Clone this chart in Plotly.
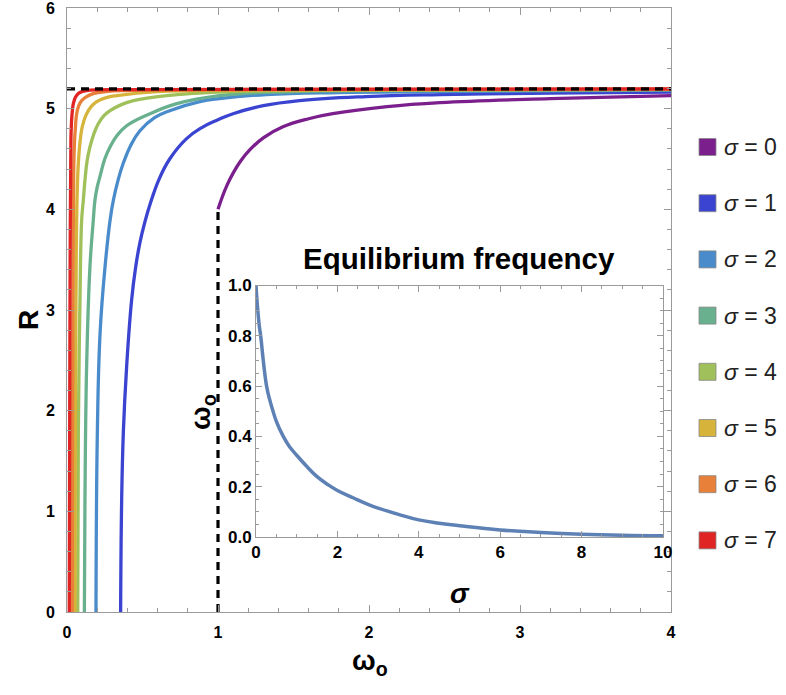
import plotly.graph_objects as go

# ---------------- data ----------------
sigma_values = [0, 1, 2, 3, 4, 5, 6, 7]
sigma_colors = ["#7b1f8c", "#3a44d0", "#4a8ccb", "#68b08e",
                "#9fc05a", "#d6b43c", "#e8803a", "#e02424"]

# R(omega_o) for each sigma
w_s0 = [1.00, 1.03, 1.06, 1.10, 1.15, 1.21, 1.30, 1.43, 1.60, 1.76, 2.12, 2.47, 3.20, 4.00]
R_s0 = [4.00, 4.13, 4.24, 4.36, 4.48, 4.59, 4.71, 4.82, 4.90, 4.95, 5.02, 5.06, 5.10, 5.13]

w_s1 = [0.355, 0.362, 0.373, 0.395, 0.428, 0.455, 0.483, 0.515, 0.55, 0.61, 0.68, 0.79, 0.89, 1.00, 1.10, 1.30, 1.54, 1.98, 2.47, 3.20, 4.00]
R_s1 = [0.00, 1.11, 1.78, 2.44, 3.10, 3.43, 3.67, 3.87, 4.05, 4.30, 4.50, 4.70, 4.81, 4.89, 4.95, 5.03, 5.08, 5.12, 5.14, 5.155, 5.165]

w_s2 = [0.192, 0.201, 0.219, 0.252, 0.285, 0.307, 0.34, 0.373, 0.42, 0.483, 0.58, 0.68, 0.88, 1.01, 1.32, 1.80, 2.47, 4.00]
R_s2 = [0.00, 1.78, 2.77, 3.43, 3.89, 4.09, 4.30, 4.46, 4.63, 4.78, 4.91, 4.98, 5.07, 5.10, 5.14, 5.16, 5.17, 5.185]

w_s3 = [0.115, 0.119, 0.130, 0.152, 0.174, 0.185, 0.20, 0.219, 0.25, 0.285, 0.33, 0.395, 0.55, 0.727, 1.01, 1.50, 2.50, 4.00]
R_s3 = [0.00, 1.11, 2.44, 3.43, 3.89, 4.09, 4.22, 4.33, 4.50, 4.62, 4.73, 4.83, 4.95, 5.05, 5.13, 5.17, 5.185, 5.19]

w_s4 = [0.071, 0.075, 0.086, 0.097, 0.108, 0.119, 0.133, 0.152, 0.178, 0.207, 0.245, 0.285, 0.36, 0.44, 0.66, 1.00, 2.00, 4.00]
R_s4 = [0.00, 1.78, 3.10, 3.89, 4.09, 4.29, 4.48, 4.62, 4.75, 4.85, 4.93, 4.98, 5.04, 5.08, 5.13, 5.165, 5.185, 5.19]

w_s5 = [0.053, 0.055, 0.058, 0.063, 0.068, 0.075, 0.085, 0.097, 0.112, 0.130, 0.16, 0.197, 0.26, 0.33, 0.60, 1.20, 4.00]
R_s5 = [0.00, 1.50, 2.80, 3.80, 4.20, 4.46, 4.65, 4.79, 4.88, 4.95, 5.02, 5.07, 5.11, 5.13, 5.17, 5.185, 5.192]

w_s6 = [0.035, 0.037, 0.042, 0.046, 0.050, 0.055, 0.064, 0.078, 0.097, 0.13, 0.174, 0.26, 0.40, 1.00, 4.00]
R_s6 = [0.00, 2.00, 3.90, 4.50, 4.68, 4.80, 4.95, 5.03, 5.08, 5.12, 5.15, 5.17, 5.18, 5.19, 5.195]

w_s7 = [0.015, 0.018, 0.022, 0.026, 0.029, 0.032, 0.037, 0.042, 0.055, 0.075, 0.10, 0.13, 0.40, 4.00]
R_s7 = [0.00, 2.00, 3.90, 4.70, 4.84, 4.92, 5.00, 5.05, 5.11, 5.15, 5.17, 5.18, 5.19, 5.196]

curves_w = [w_s0, w_s1, w_s2, w_s3, w_s4, w_s5, w_s6, w_s7]
curves_R = [R_s0, R_s1, R_s2, R_s3, R_s4, R_s5, R_s6, R_s7]

# reference lines
R_limit = 5.196
limit_w = [0.0, 4.0]
edge_w = [1.0, 1.0]
edge_R = [0.0, 4.0]

# inset: equilibrium frequency vs sigma
inset_sigma = [0.0, 0.02, 0.05, 0.08, 0.115, 0.18, 0.26, 0.33, 0.40, 0.50, 0.67, 0.82, 1.00, 1.25, 1.50, 1.75, 2.00, 2.40, 2.75, 3.00, 3.50, 4.00, 4.50, 5.00, 6.00, 7.00, 8.00, 9.00, 10.0]
inset_omega = [1.00, 0.95, 0.89, 0.84, 0.80, 0.70, 0.60, 0.55, 0.51, 0.46, 0.40, 0.36, 0.325, 0.28, 0.24, 0.21, 0.185, 0.155, 0.13, 0.115, 0.09, 0.068, 0.055, 0.045, 0.028, 0.018, 0.011, 0.007, 0.005]

# ---------------- layout geometry (pixels) ----------------
W, H = 786, 695
PL, PR, PT, PB = 67, 671, 8, 612   # main plot frame


def fx(px):
    return (px - PL) / (PR - PL)


def fy(py):
    return (PB - py) / (PB - PT)


FONT = "Liberation Sans, Arial, sans-serif"
FRAME = "#9a9a9a"
SMOOTH = 1.2

fig = go.Figure()

for s, col, w, r in zip(sigma_values, sigma_colors, curves_w, curves_R):
    fig.add_trace(go.Scatter(
        x=w, y=r, mode="lines", name=f"σ = {s}", showlegend=False,
        line=dict(color=col, width=3.3, shape="spline", smoothing=SMOOTH),
        xaxis="x", yaxis="y"))

dash_style = dict(color="black", width=3.2, dash="8px,6px")
fig.add_trace(go.Scatter(x=limit_w, y=[R_limit, R_limit], mode="lines",
                         line=dash_style, showlegend=False, xaxis="x", yaxis="y"))
fig.add_trace(go.Scatter(x=edge_w, y=edge_R, mode="lines",
                         line=dash_style, showlegend=False, xaxis="x", yaxis="y"))

fig.add_trace(go.Scatter(x=inset_sigma, y=inset_omega, mode="lines", showlegend=False,
                         line=dict(color="#5e81b5", width=3.5, shape="spline", smoothing=SMOOTH),
                         xaxis="x2", yaxis="y2"))

axis_common = dict(
    showline=True, linecolor=FRAME, linewidth=1, mirror="allticks",
    ticks="inside", tickcolor=FRAME, tickwidth=1,
    showgrid=False, zeroline=False, automargin=False,
    ticklabeloverflow="allow",
    tickfont=dict(family=FONT, size=16, color="black", weight="bold"),
)

fig.update_layout(
    template="none",
    width=W, height=H, autosize=False,
    margin=dict(l=PL, r=W - PR, t=PT, b=H - PB, pad=0),
    paper_bgcolor="white", plot_bgcolor="white",
    showlegend=False,
    xaxis=dict(axis_common, domain=[0, 1], range=[0, 4], tick0=0, dtick=1, ticklen=7,
               ticklabelstandoff=6,
               minor=dict(dtick=0.2, ticklen=4, ticks="inside", tickcolor=FRAME),
               anchor="y"),
    yaxis=dict(axis_common, domain=[0, 1], range=[0, 6], tick0=0, dtick=1, ticklen=7,
               ticklabelstandoff=8,
               minor=dict(dtick=0.2, ticklen=4, ticks="inside", tickcolor=FRAME),
               anchor="x"),
    xaxis2=dict(axis_common, domain=[fx(256), fx(663)], range=[0, 10], tick0=0, dtick=2,
                ticklen=6, minor=dict(dtick=0.5, ticklen=3, ticks="inside", tickcolor=FRAME),
                anchor="y2", tickfont=dict(family=FONT, size=17, color="black", weight="bold")),
    yaxis2=dict(axis_common, domain=[fy(537), fy(285.5)], range=[0, 1], tick0=0, dtick=0.2,
                tickformat=".1f", ticklen=6,
                minor=dict(dtick=0.05, ticklen=3, ticks="inside", tickcolor=FRAME),
                anchor="x2", tickfont=dict(family=FONT, size=17, color="black", weight="bold")),
)

annotations = [
    dict(x=fx(370), y=fy(662), text="<b>ω<sub>o</sub></b>", font=dict(family=FONT, size=28, color="black")),
    dict(x=fx(28), y=fy(320), text="<b>R</b>", textangle=-90, font=dict(family=FONT, size=28, color="black")),
    dict(x=fx(459), y=fy(258), text="<b>Equilibrium frequency</b>", font=dict(family=FONT, size=29.5, color="black")),
    dict(x=fx(460), y=fy(593), text="<b><i>σ</i></b>", font=dict(family=FONT, size=28, color="black")),
    dict(x=fx(202), y=fy(412), text="<b>ω<sub>o</sub></b>", textangle=-90, font=dict(family=FONT, size=28, color="black")),
]
for a in annotations:
    a.update(xref="paper", yref="paper", showarrow=False, xanchor="center", yanchor="middle")

# legend built from swatches and labels
shapes = []
for i, (s, col) in enumerate(zip(sigma_values, sigma_colors)):
    cy = 147 + 56.2 * i
    shapes.append(dict(type="rect", xref="paper", yref="paper",
                       x0=fx(699), x1=fx(716), y0=fy(cy + 8.5), y1=fy(cy - 8.5),
                       fillcolor=col, line=dict(color="#888888", width=0.8)))
    annotations.append(dict(xref="paper", yref="paper", x=fx(722), y=fy(cy),
                            text=f"<i>σ</i> = {s}", showarrow=False,
                            xanchor="left", yanchor="middle",
                            font=dict(family=FONT, size=23, color="#222222")))

fig.update_layout(annotations=annotations, shapes=shapes)

fig.write_html("out.html")
